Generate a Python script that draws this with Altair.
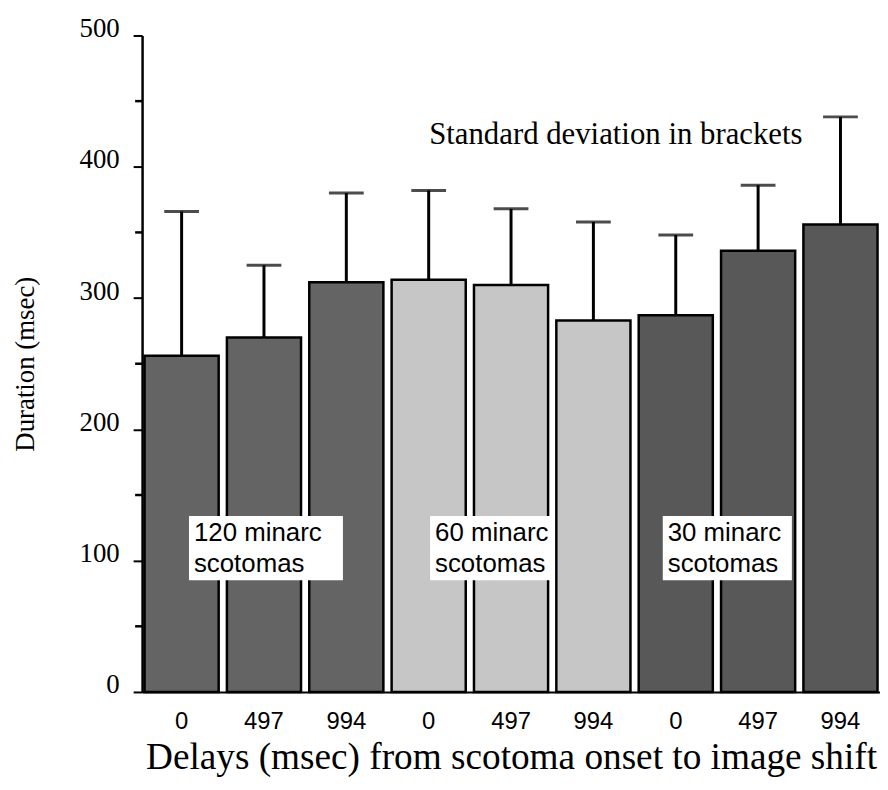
import json
import altair as alt
import pandas as pd

# ---- data ----
idx = [0, 1, 2, 3, 4, 5, 6, 7, 8]
delays = ["0", "497", "994", "0", "497", "994", "0", "497", "994"]
groups = ["120", "120", "120", "60", "60", "60", "30", "30", "30"]
means = [256, 270, 312, 314, 310, 283, 287, 336, 356]
sds = [110, 55, 68, 68, 58, 75, 61, 50, 82]

group_names = ["120", "60", "30"]
group_fills = ["#646464", "#c6c6c6", "#585858"]

box_idx = [1, 4, 7]
box_text = ["120 minarc\nscotomas", "60 minarc\nscotomas", "30 minarc\nscotomas"]
box_width = [155, 125, 130]
box_dx = [2, -19, -31]
box_lo = [85, 85, 85]
box_hi = [134, 134, 134]

minor_vals = [50, 150, 250, 350, 450]
major_vals = [0, 100, 200, 300, 400, 500]

df = pd.DataFrame({
    "idx": idx,
    "delay": delays,
    "group": groups,
    "mean": means,
    "sd": sds,
})
df["top"] = df["mean"] + df["sd"]

SERIF = "Liberation Serif"
SANS = "Liberation Sans"

xscale = alt.Scale(paddingInner=0.1, paddingOuter=0.03)
yscale = alt.Scale(domain=[0, 500], nice=False)

label_expr = json.dumps(delays) + "[datum.value]"

x_enc = alt.X(
    "idx:O",
    scale=xscale,
    axis=alt.Axis(
        title="Delays (msec) from scotoma onset to image shift",
        titleFont=SERIF, titleFontSize=37.5, titleFontWeight="normal",
        titleColor="black", titlePadding=5,
        labelExpr=label_expr, labelFont=SANS, labelFontSize=24,
        labelColor="black", labelAngle=0, labelPadding=18,
        ticks=False, domainColor="black", domainWidth=2,
    ),
)

bars = alt.Chart(df).mark_bar(stroke="black", strokeWidth=2.5).encode(
    x=x_enc,
    y=alt.Y(
        "mean:Q",
        scale=yscale,
        axis=alt.Axis(
            values=major_vals, title="Duration (msec)",
            titleFont=SERIF, titleFontSize=27, titleFontWeight="normal",
            titleColor="black", titlePadding=40,
            labelFont=SERIF, labelFontSize=27, labelColor="black",
            labelPadding=14, labelOffset=-7,
            tickSize=9, tickWidth=2, tickColor="black",
            domainColor="black", domainWidth=2.5, grid=False,
        ),
    ),
    fill=alt.Fill("group:N", scale=alt.Scale(domain=group_names, range=group_fills), legend=None),
)

stems = alt.Chart(df).mark_rule(color="black", strokeWidth=3).encode(
    x="idx:O", y="mean:Q", y2="top:Q"
)
caps = alt.Chart(df).mark_tick(color="black", size=35, thickness=3).encode(
    x="idx:O", y="top:Q"
)

minor = alt.Chart(pd.DataFrame({"v": minor_vals})).mark_rule(
    color="black", strokeWidth=2.5
).encode(x=alt.value(-7), x2=alt.value(0), y="v:Q")

layers = [bars, stems, caps, minor]

for i in range(len(box_idx)):
    bdf = pd.DataFrame({
        "idx": [box_idx[i]], "lo": [box_lo[i]], "hi": [box_hi[i]],
        "txt": [box_text[i]], "ty": [115],
    })
    rect = alt.Chart(bdf).mark_bar(
        width=box_width[i], xOffset=box_dx[i], fill="white", strokeWidth=0
    ).encode(x="idx:O", y="lo:Q", y2="hi:Q")
    txt = alt.Chart(bdf).mark_text(
        align="left", baseline="alphabetic", lineBreak="\n",
        font=SANS, fontSize=26, lineHeight=31, color="black",
        dx=box_dx[i] - box_width[i] / 2 + 5,
    ).encode(x="idx:O", y="ty:Q", text="txt:N")
    layers += [rect, txt]

note = alt.Chart(pd.DataFrame({"t": ["Standard deviation in brackets"], "y": [417]})).mark_text(
    align="center", baseline="alphabetic", font=SERIF, fontSize=31, color="black"
).encode(x=alt.value(477), y="y:Q", text="t:N")
layers.append(note)

chart = alt.layer(*layers).properties(
    width=743, height=661,
    background="white",
    autosize=alt.AutoSizeParams(type="none"),
    padding={"left": 135, "top": 25, "right": 0, "bottom": 90},
).configure_view(stroke=None)

chart.save("out.html", embed_options={"renderer": "svg", "actions": False})
